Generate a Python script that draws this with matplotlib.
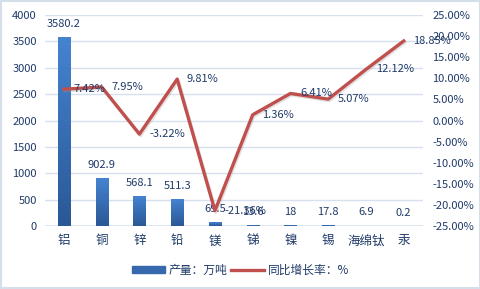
import numpy as np
import matplotlib.pyplot as plt
from matplotlib.patches import Rectangle
from matplotlib.lines import Line2D
from matplotlib.colors import LinearSegmentedColormap

plt.rcParams['font.family'] = ['Noto Sans CJK SC', 'DejaVu Sans']

metals = ['铝', '铜', '锌', '铅', '镁', '锑', '镍', '锡', '海绵钛', '汞']
output = [3580.2, 902.9, 568.1, 511.3, 69.5, 13.6, 18, 17.8, 6.9, 0.2]
growth = [7.42, 7.95, -3.22, 9.81, -21.36, 1.36, 6.41, 5.07, 12.12, 18.85]

txt = '#1f3a68'
grid = '#d6e0ee'

fig = plt.figure(figsize=(4.81, 2.89), dpi=100)
fig.patches.append(Rectangle((0.002, 0.003), 0.996, 0.994, transform=fig.transFigure,
                             fill=False, edgecolor='#d5dfeb', lw=1.5))
ax = fig.add_axes([0.0936, 0.218, 0.785, 0.730])
x = np.arange(len(metals))
w = 0.32

# bars with a vertical gradient (dark at bottom, lighter at top)
grad = np.linspace(0, 1, 100).reshape(-1, 1)
cmap = LinearSegmentedColormap.from_list('b', ['#2a5896', '#4583d0'])
bars = ax.bar(x, output, w, color='#3a70b8', zorder=2)
for b in bars:
    bx = b.get_x()
    h = b.get_height()
    im = ax.imshow(grad, extent=[bx, bx + w, 0, max(h, 0.01)], origin='lower',
                   aspect='auto', cmap=cmap, zorder=2.1)
    im.set_clip_path(b)
for xi, v in zip(x, output):
    ax.annotate(f'{v:g}', (xi, v), xytext=(0, 6), textcoords='offset points',
                ha='center', va='bottom', fontsize=8, color=txt)

ax.set_xlim(-0.5, len(metals) - 0.5)
ax.set_ylim(0, 4000)
ax.set_yticks(range(0, 4001, 500))
ax.set_xticks(x)
ax.set_xticklabels(metals, fontsize=9, color=txt)
ax.tick_params(axis='y', labelsize=8, labelcolor=txt, length=0, pad=6)
ax.tick_params(axis='x', length=0, pad=6)
ax.yaxis.grid(True, color=grid, lw=1, zorder=0)
ax.set_axisbelow(True)
for s in ax.spines.values():
    s.set_visible(False)
ax.axhline(0, color=grid, lw=1.2, zorder=1)

ax2 = ax.twinx()
ax2.set_ylim(-25, 25)
ax2.set_yticks(range(-25, 26, 5))
ax2.set_yticklabels([f'{t:.2f}%' for t in range(-25, 26, 5)])
ax2.tick_params(axis='y', labelsize=8, labelcolor=txt, length=0, pad=7)
for s in ax2.spines.values():
    s.set_visible(False)
# soft shadow under the growth line
ax2.plot(x + 0.03, np.array(growth) - 0.35, color='#a0a0a0', lw=2.4, alpha=0.3, zorder=2)
ax2.plot(x, growth, color='#c0504d', lw=2.4, zorder=3)
for xi, v in zip(x, growth):
    ax2.annotate(f'{v:.2f}%', (xi, v), xytext=(7, 0), textcoords='offset points',
                 ha='left', va='center', fontsize=8, color=txt, zorder=4)

handles = [Rectangle((0, 0), 1, 1, color='#3668ad'),
           Line2D([], [], color='#c0504d', lw=2.4)]
fig.legend(handles, ['产量：万吨', '同比增长率：%'], loc='center', bbox_to_anchor=(0.5, 0.065),
           ncol=2, frameon=False, fontsize=8.5, labelcolor=txt, handlelength=2.8,
           handleheight=0.6, columnspacing=0.3, handletextpad=0.3)

fig.savefig('out.png', dpi=100)
